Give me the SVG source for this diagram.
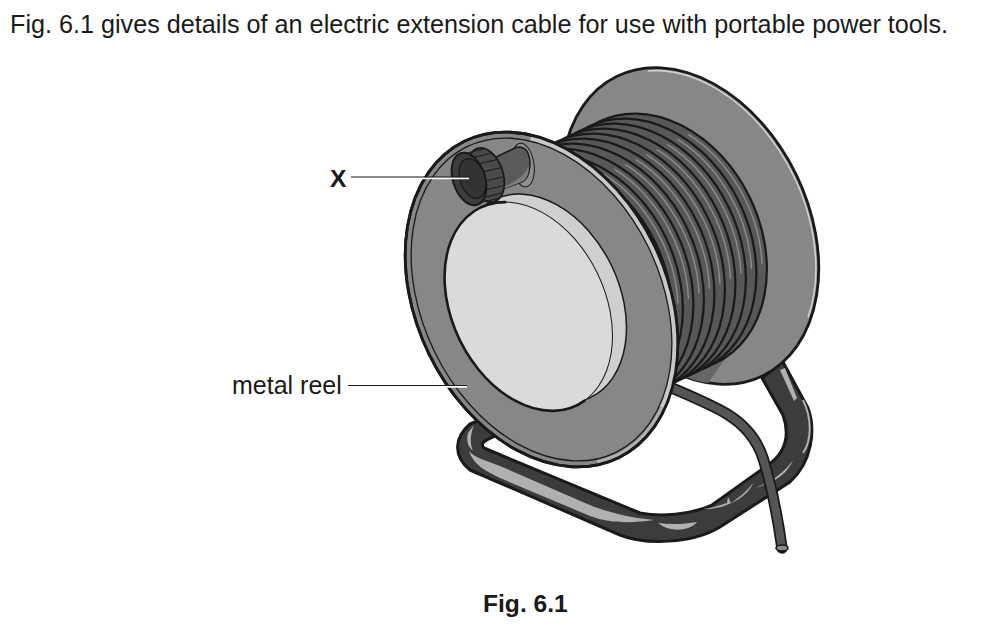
<svg xmlns="http://www.w3.org/2000/svg" width="988" height="626" viewBox="0 0 988 626">
<style>
text{font-family:"Liberation Sans",Arial,sans-serif;font-size:25px;fill:#1a1a1a}
.t{font-size:25.2px}
.b{font-weight:bold;font-size:24.6px}
.k{stroke:#1a1a1a;stroke-linejoin:round;stroke-linecap:round}
.n{fill:none}
.h{fill:#b0b0b0}
.halo{stroke:#fff;stroke-width:2;fill:none}
.lead{stroke:#1a1a1a;stroke-width:1.2;fill:none}
</style>
<defs>
<g id="w">
<ellipse rx="102" ry="134" transform="rotate(-26)" fill="#585858" stroke="#1a1a1a" stroke-width="2.2"/>
<path d="M30.2 -107.7A97 130 -26 0 1 104 21.6" fill="none" stroke="#8c8c8c" stroke-width="1.4"/>
</g>
</defs>
<rect width="988" height="626" fill="#fff"/>
<text class="t" x="10" y="33">Fig. 6.1 gives details of an electric extension cable for use with portable power tools.</text>
<text class="b" x="483" y="612">Fig. 6.1</text>
<text class="b" x="330" y="187">X</text>
<text x="232" y="394">metal reel</text>
<g id="frame">
<path class="k" fill="#3c3c3a" stroke-width="3" d="M470 424C455 437 452 455 470 470L620 535C645 545 692 544 720 527L790 482C812 462 816 430 808 408L783 362L762 378L783 415C790 435 786 450 772 462L712 505C690 515 660 517 640 513L484 448C480 444 483 441 495 436L480 420Z"/>
<path class="h" d="M469 451C474 466 488 472 500 478L590 516C612 524 632 523 654 520C625 517 603 511 585 503L500 466C485 460 475 458 469 451Z"/>
<path class="h" d="M658 523C672 525 685 524 697 522C690 531 670 533 658 523Z"/>
<path class="h" d="M703 509C712 508 720 505 727 503L728 497L731 503C740 497 748 490 753 483C748 497 725 510 703 509Z"/>
<path class="h" d="M755 488C770 483 785 472 793 460C787 476 770 484 755 488Z"/>
<path class="h" d="M780 370L785 368L797 398L794 401Z"/>
<path class="n" stroke="#b0b0b0" stroke-width="2" d="M803 400C812 418 812 440 803 453"/>
<path class="h" d="M468 433L474 425C470 435 470 445 473 451C468 447 466 440 468 433Z"/>
</g>
<g id="cable">
<path class="k n" stroke-width="11.5" stroke-linecap="butt" d="M672 388C695 398 712 405 727 414C745 425 757 440 763 458C772 487 778 520 782 548"/>
<path class="n" stroke="#555" stroke-width="8" d="M672 388C695 398 712 405 727 414C745 425 757 440 763 458C772 487 778 520 782 548"/>
<ellipse class="k" cx="782" cy="548" rx="6" ry="3" fill="#8a8a8a" stroke-width="1.6"/>
</g>
<g id="back-disc">
<ellipse class="k" cx="690" cy="226" rx="118" ry="166.5" transform="rotate(-26 690 226)" fill="#878787" stroke-width="2.8"/>
<path class="n" stroke="#d0d0d0" stroke-width="1.6" d="M647.6 71A115 163.5 -26 0 1 808 317.6"/>
<path fill="#666" d="M680 372L730 352L708 383C695 381 685 378 680 372Z"/>
</g>
<g id="coil">
<use href="#w" x="658" y="242"/>
<use href="#w" x="647.5" y="247"/>
<use href="#w" x="637" y="252"/>
<use href="#w" x="626.5" y="257"/>
<use href="#w" x="616" y="262"/>
<use href="#w" x="605.5" y="267"/>
<use href="#w" x="595" y="272"/>
<use href="#w" x="584.5" y="277"/>
<use href="#w" x="574" y="282"/>
<use href="#w" x="563.5" y="287"/>
<use href="#w" x="553" y="292"/>
</g>
<g id="front-disc">
<ellipse class="k" cx="541.5" cy="299.5" rx="125" ry="176" transform="rotate(-26 541.5 299.5)" fill="#878787" stroke-width="2.8"/>
<path class="n" stroke="#c8c8c8" stroke-width="6" d="M530.7 138A122 173 -26 0 1 661.9 407.5"/>
<path class="n" stroke="#b0b0b0" stroke-width="3" d="M661.9 407.5A122 173 -26 0 1 597 462"/>
<ellipse class="n" cx="541.5" cy="299.5" rx="119" ry="170" transform="rotate(-26 541.5 299.5)" stroke="#1a1a1a" stroke-width="1.3"/>
<ellipse class="k n" cx="541.5" cy="299.5" rx="125" ry="176" transform="rotate(-26 541.5 299.5)" stroke-width="2.8"/>
<ellipse cx="542.5" cy="298.5" rx="76.5" ry="110" transform="rotate(-26 542.5 298.5)" fill="#cfcfcf" stroke="#1a1a1a" stroke-width="1.5"/>
<ellipse cx="528.5" cy="306.5" rx="76.5" ry="110" transform="rotate(-26 528.5 306.5)" fill="#dadada" stroke="#1a1a1a" stroke-width="1"/>
<path class="k n" stroke-width="2.6" d="M505.3 202.1A76.5 110 -26 1 0 584.7 400.6"/>
</g>
<g id="plug">
<ellipse cx="523" cy="165" rx="11" ry="22" transform="rotate(-8 523 165)" fill="#8f8f8f" stroke="#1a1a1a" stroke-width="1"/>
<path class="k" fill="#5a5a5a" stroke-width="1.5" d="M490 160L517 147C526 146 530 153 530 165C529 175 527 181 519 183L500 190Z"/>
<path fill="#7c7c7c" d="M505 186C515 182 525 176 529 165C529 176 526 181 519 183L503 189Z"/>
<ellipse class="k" cx="486" cy="175" rx="17" ry="28" transform="rotate(-18 486 175)" fill="#4a4a48" stroke-width="1.8"/>
<path class="n" stroke="#1a1a1a" stroke-width="1" d="M466.4 153.1L483.4 149.1M473.8 157.3L490.8 153.3M479.3 163.7L496.3 159.7M483.4 171.8L500.4 167.8M485.9 180.9L502.9 176.9M486.3 189.7L503.3 185.7M484.5 197.2L501.5 193.2M481 202.5L498 198.5"/>
<ellipse class="k" cx="469" cy="179" rx="16" ry="27" transform="rotate(-18 469 179)" fill="#3c3c3a" stroke-width="2"/>
<ellipse cx="472.5" cy="178.5" rx="12.5" ry="20.5" transform="rotate(-18 472.5 178.5)" fill="#333331" stroke="#111" stroke-width="1"/>
</g>
<g id="leaders">
<path class="halo" d="M351 178.2H469M348 386.8H467"/>
<path class="lead" d="M351 177H469M348 385.5H467"/>
</g>
</svg>
